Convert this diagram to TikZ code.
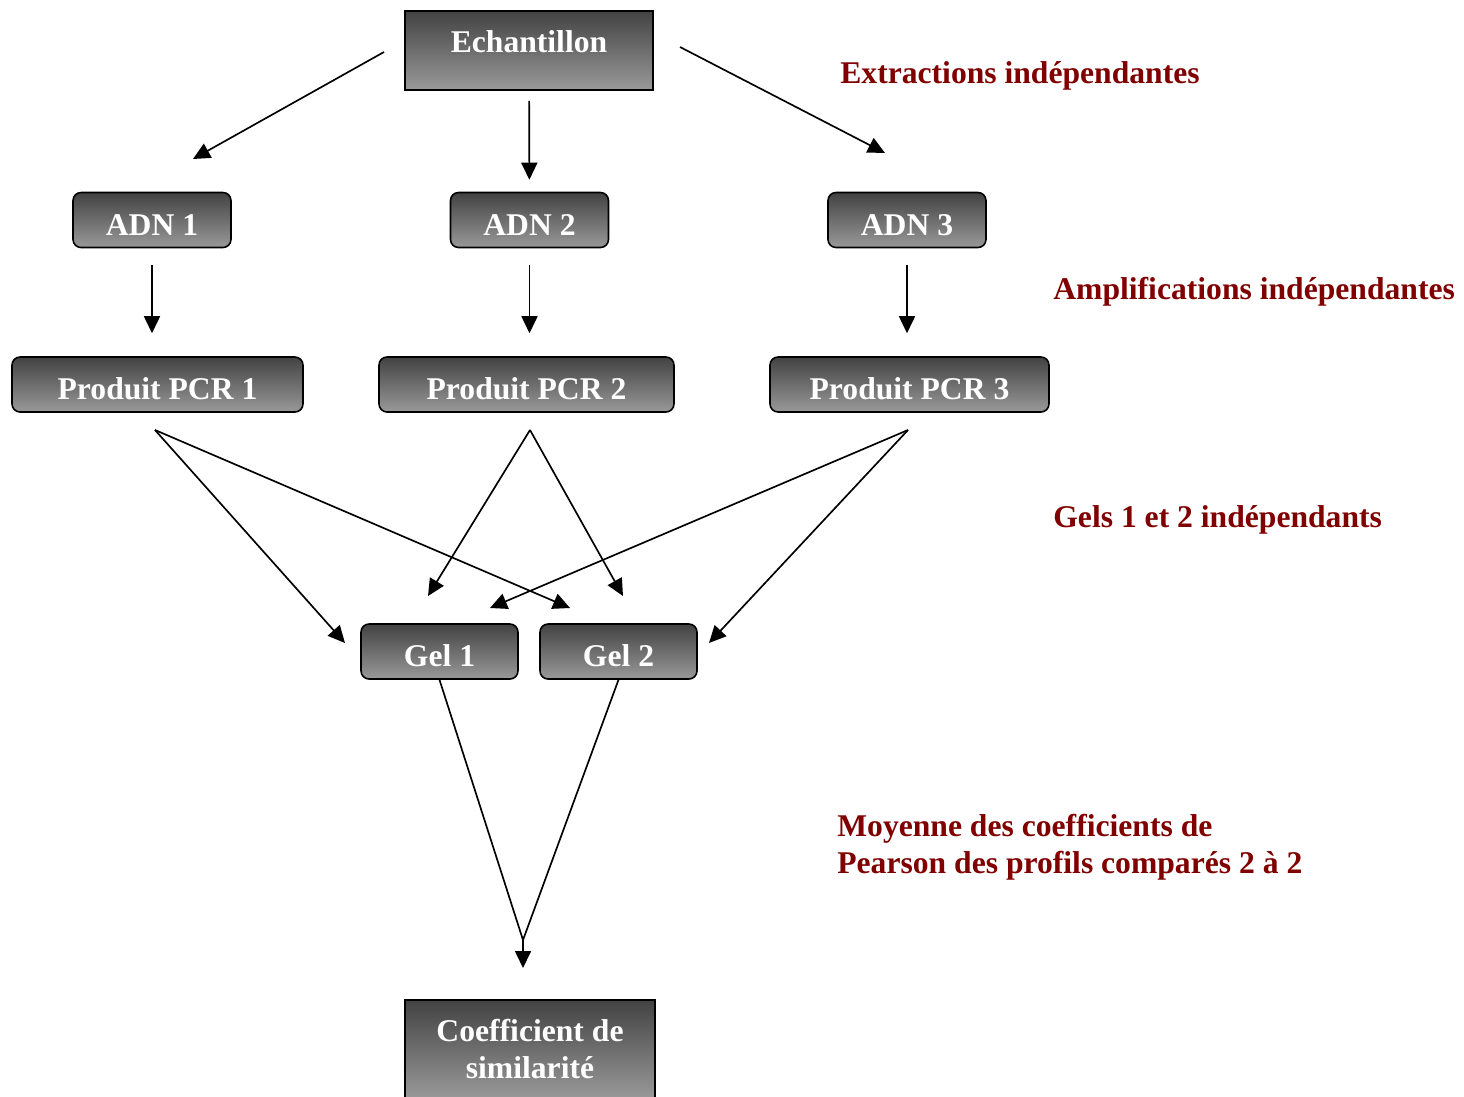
\documentclass[tikz,border=0pt]{standalone}
\usepackage{fontspec}
\setmainfont{Liberation Serif}
\usepackage{xcolor}
\usetikzlibrary{arrows.meta,positioning}
\definecolor{lblred}{HTML}{800000}

\begin{document}
\begin{tikzpicture}[x=0.02cm,y=-0.02cm,every node/.style={font=\fontsize{18}{21}\selectfont\bfseries},
  shbox/.style={draw,line width=0.9pt,top color=black!74,bottom color=black!40,text=white,inner sep=0pt},
  box/.style={shbox,rounded corners=0.16cm,minimum height=1.1cm,text height=0.61cm,text depth=0pt},
  lbl/.style={anchor=west,text=lblred,align=left,inner sep=0pt},
  arr/.style={-{Triangle[length=0.34cm,width=0.32cm]},line width=0.95pt}]
\useasboundingbox (0,0) rectangle (1464,1096);
\node[shbox,minimum width=4.96cm,minimum height=1.58cm,text height=0.5cm,text depth=0.42cm](ech) at (529,50.5){Echantillon};
\node[box,minimum width=3.16cm](adn1) at (152,220){ADN 1};
\node[box,minimum width=3.16cm](adn2) at (529.5,220){ADN 2};
\node[box,minimum width=3.16cm](adn3) at (907,220){ADN 3};
\node[box,minimum width=5.82cm](pcr1) at (157.5,384.5){Produit PCR 1};
\node[box,minimum width=5.9cm](pcr2) at (526.5,384.5){Produit PCR 2};
\node[box,minimum width=5.58cm](pcr3) at (909.5,384.5){Produit PCR 3};
\node[box,minimum width=3.14cm](gel1) at (439.5,651.5){Gel 1};
\node[box,minimum width=3.14cm](gel2) at (618.5,651.5){Gel 2};
\node[shbox,anchor=north,minimum width=5cm,minimum height=1.98cm,align=center](coef) at (530,999){Coefficient de\\similarit\'e};
% labels on the right
\node[lbl](lext) at (840,76){Extractions indépendantes};
\node[lbl](lamp) at (1053,292){Amplifications indépendantes};
\node[lbl](lgel) at (1053,520){Gels 1 et 2 indépendants};
\node[lbl](lmoy) at (837,847.5){Moyenne des coefficients de\\Pearson des profils comparés 2 à 2};
% free ends of the connectors
\coordinate (e1) at (384,52);\coordinate (a1) at (193,159);
\coordinate (e3) at (680,47);\coordinate (a3) at (885,153);
\coordinate (p1) at (155,430);\coordinate (p2) at (530,430);\coordinate (p3) at (908,430);
\coordinate (g1a) at (345,643);\coordinate (g1b) at (428,596);\coordinate (g1c) at (490,608);
\coordinate (g2a) at (570,608);\coordinate (g2b) at (623,596);\coordinate (g2c) at (709,643);
\coordinate (m) at (523,940);
\draw[arr](e1)--(a1);\draw[arr](e3)--(a3);
\draw[arr,shorten <=0.2cm,shorten >=0.24cm](ech)--(adn2);
\foreach \n in {1,2,3}
  \draw[arr,shorten <=0.34cm,shorten >=0.46cm](adn\n.south)--(adn\n.south |- pcr\n.north);
\draw[arr](p1)--(g1a);\draw[arr](p1)--(g2a);
\draw[arr](p2)--(g1b);\draw[arr](p2)--(g2b);
\draw[arr](p3)--(g1c);\draw[arr](p3)--(g2c);
\draw[line width=0.95pt](gel1.south)--(m)--(gel2.south);
\draw[arr,shorten >=0.62cm](m)--(m |- coef.north);
\end{tikzpicture}
\end{document}
